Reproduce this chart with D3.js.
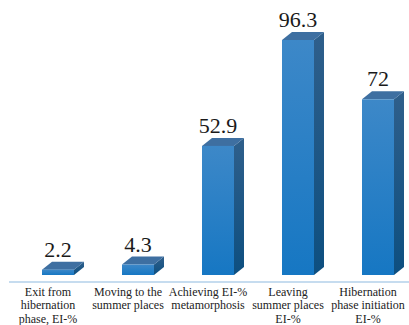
<!DOCTYPE html>
<html>
<head>
<meta charset="utf-8">
<script src="https://cdn.jsdelivr.net/npm/d3@7"></script>
<style>
  html, body { margin: 0; padding: 0; background: #ffffff; }
  svg { display: block; }
</style>
</head>
<body>
<svg id="chart" width="409" height="325"></svg>
<script>
// Phenological stages and their EI-% values
const categories = [
  ["Exit from", "hibernation", "phase, EI-%"],
  ["Moving to the", "summer places"],
  ["Achieving EI-%", "metamorphosis"],
  ["Leaving", "summer places", "EI-%"],
  ["Hibernation", "phase initiation", "EI-%"]
];
const values = [2.2, 4.3, 52.9, 96.3, 72];
const valueLabels = ["2.2", "4.3", "52.9", "96.3", "72"];

const W = 409, H = 325;
const base = 275;          // y of bar bottoms
const depthX = 10, depthY = 8;
const SERIF = '"Liberation Serif"';

const svg = d3.select("#chart");

const x = d3.scaleBand()
  .domain(d3.range(values.length))
  .range([10, 426])
  .paddingInner(0.6)
  .paddingOuter(0.4);

const y = d3.scaleLinear()
  .domain([0, 96.3])
  .range([base, 40]);

const defs = svg.append("defs");
const gFront = defs.append("linearGradient").attr("id", "front")
  .attr("x1", 0).attr("y1", 0).attr("x2", 0).attr("y2", 1);
gFront.append("stop").attr("offset", 0).attr("stop-color", "#3d88c8");
gFront.append("stop").attr("offset", 1).attr("stop-color", "#1677c3");
const gSide = defs.append("linearGradient").attr("id", "side")
  .attr("x1", 0).attr("y1", 0).attr("x2", 0).attr("y2", 1);
gSide.append("stop").attr("offset", 0).attr("stop-color", "#2f5f8b");
gSide.append("stop").attr("offset", 1).attr("stop-color", "#0d4f80");

// baseline
svg.append("line")
  .attr("x1", 9).attr("x2", W)
  .attr("y1", 282).attr("y2", 282)
  .attr("stroke", "#c6dcef").attr("stroke-width", 2);

const bars = svg.append("g").selectAll("g")
  .data(values)
  .join("g");

bars.each(function (v, i) {
  const g = d3.select(this);
  const x0 = x(i), x1 = x(i) + x.bandwidth();
  const yt = y(v);
  // side face
  g.append("path")
    .attr("d", `M${x1},${yt}L${x1 + depthX},${yt - depthY}L${x1 + depthX},${base - depthY}L${x1},${base}Z`)
    .attr("fill", "url(#side)");
  // top face
  g.append("path")
    .attr("d", `M${x0},${yt}L${x0 + depthX},${yt - depthY}L${x1 + depthX},${yt - depthY}L${x1},${yt}Z`)
    .attr("fill", "#3e6fa1");
  // front face
  g.append("rect")
    .attr("x", x0).attr("y", yt)
    .attr("width", x.bandwidth()).attr("height", base - yt)
    .attr("fill", "url(#front)");
  // value label
  g.append("text")
    .attr("x", x0 + x.bandwidth() / 2)
    .attr("y", yt - depthY - 5)
    .attr("text-anchor", "middle")
    .style("font-family", SERIF)
    .style("font-size", "22px")
    .attr("fill", "#1a1a1a")
    .text(valueLabels[i]);
});

// category labels
const labels = svg.append("g")
  .style("font-family", SERIF)
  .style("font-size", "12px")
  .attr("fill", "#222")
  .attr("text-anchor", "middle");

categories.forEach((lines, i) => {
  const cx = x(i) + x.bandwidth() / 2 - 10;
  const t = labels.append("text").attr("x", cx).attr("y", 296);
  lines.forEach((ln, j) => {
    t.append("tspan").attr("x", cx).attr("dy", j === 0 ? 0 : 13.3).text(ln);
  });
});
</script>
</body>
</html>
